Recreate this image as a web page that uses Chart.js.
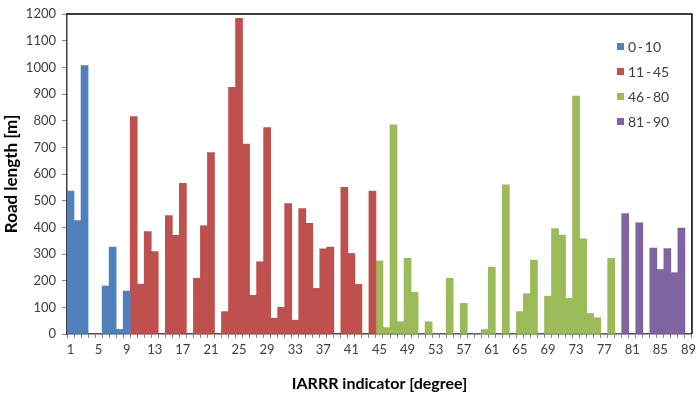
<!DOCTYPE html>
<html>
<head>
<meta charset="utf-8">
<script src="https://cdn.jsdelivr.net/npm/chart.js@4"></script>
<style>
  html, body { margin: 0; padding: 0; background: #fff; }
  #wrap { width: 700px; height: 393px; }
</style>
</head>
<body>
<div id="wrap"><canvas id="chart"></canvas></div>
<script>
// Road length [m] per IARRR degree, grouped as in the legend.
const groupLabels = ['0\u2009-\u200910', '11\u2009-\u200945', '46\u2009-\u200980', '81\u2009-\u200990'];
const groupColors = ['#4f81bd', '#c0504d', '#9bbb59', '#8064a2'];

// categories 1-9
const blueValues = [536, 425, 1007, 0, 0, 180, 326, 17, 161];
// categories 10-44
const redValues = [815, 187, 384, 309, 0, 444, 370, 565, 0, 209, 406, 680, 0, 84, 925,
  1184, 712, 145, 271, 774, 59, 100, 489, 52, 470, 415, 171, 319, 326, 0, 550, 302, 186, 0, 536];
// categories 45-79
const greenValues = [274, 24, 784, 46, 284, 156, 0, 46, 0, 0, 209, 0, 115, 0, 0, 17, 251, 0,
  559, 0, 84, 151, 277, 0, 142, 395, 371, 134, 892, 357, 77, 61, 0, 284, 0];
// categories 80-89
const purpleValues = [452, 0, 417, 0, 322, 242, 320, 230, 397, 0];

const groups = [blueValues, redValues, greenValues, purpleValues];
const categories = [];
for (let i = 1; i <= 89; i++) categories.push(String(i));

// Each group keeps its own slot range, nulls elsewhere so stacked bars fill the full width.
let offset = 0;
const datasets = groups.map((vals, gi) => {
  const data = categories.map(() => null);
  vals.forEach((v, j) => { data[offset + j] = v; });
  offset += vals.length;
  return {
    label: groupLabels[gi],
    data,
    backgroundColor: groupColors[gi],
    borderWidth: 0,
    barPercentage: 1,
    categoryPercentage: 1,
  };
});

const FONT = 'Lato, "Open Sans", sans-serif';
const TXT = '#404040';

/* caja negra alrededor del área + leyenda dentro del gráfico */
const frameAndLegend = {
  id: 'frameAndLegend',
  afterDraw(chart) {
    const { ctx, chartArea: a } = chart;
    ctx.save();
    ctx.strokeStyle = '#000';
    ctx.lineWidth = 1.5;
    ctx.beginPath();
    ctx.moveTo(a.left, a.top);
    ctx.lineTo(a.right, a.top);
    ctx.lineTo(a.right, a.bottom);
    ctx.stroke();

    ctx.font = `14px ${FONT}`;
    ctx.textBaseline = 'middle';
    chart.data.datasets.forEach((ds, i) => {
      const y = 47 + i * 25;
      ctx.fillStyle = ds.backgroundColor;
      ctx.fillRect(617, y - 4, 7, 7);
      ctx.fillStyle = TXT;
      ctx.fillText(ds.label, 628, y);
    });
    ctx.restore();
  },
};

new Chart(document.getElementById('chart'), {
  type: 'bar',
  data: { labels: categories, datasets },
  options: {
    responsive: true,
    maintainAspectRatio: false,
    animation: false,
    layout: { padding: { top: 14, right: 6, left: 0, bottom: 0 } },
    plugins: {
      legend: { display: false },
      tooltip: { enabled: false },
    },
    scales: {
      x: {
        stacked: true,
        afterFit: (s) => { s.height = 59; },
        grid: { drawOnChartArea: false, offset: true, tickLength: 4, color: '#868686' },
        border: { color: '#404040', width: 1.5 },
        ticks: {
          autoSkip: false,
          maxRotation: 0,
          padding: 4,
          color: TXT,
          font: { family: FONT, size: 13 },
          callback: (v, i) => (i % 4 === 0 ? categories[i] : ''),
        },
        title: {
          display: true,
          text: 'IARRR indicator [degree]',
          color: '#000',
          font: { family: FONT, size: 16, weight: 'bold' },
          padding: { top: 6, bottom: 0 },
        },
      },
      y: {
        stacked: true,
        min: 0,
        max: 1200,
        afterFit: (s) => { s.width = 67; },
        grid: { drawOnChartArea: false, tickLength: 5, color: '#868686' },
        border: { color: '#404040', width: 1.5 },
        ticks: {
          stepSize: 100,
          padding: 6,
          color: TXT,
          font: { family: FONT, size: 13 },
          callback: (v) => String(v),
        },
        title: {
          display: true,
          text: 'Road length [m]',
          color: '#000',
          font: { family: FONT, size: 17, weight: 'bold' },
          padding: { top: 1, bottom: 0 },
        },
      },
    },
  },
  plugins: [frameAndLegend],
});
</script>
</body>
</html>
